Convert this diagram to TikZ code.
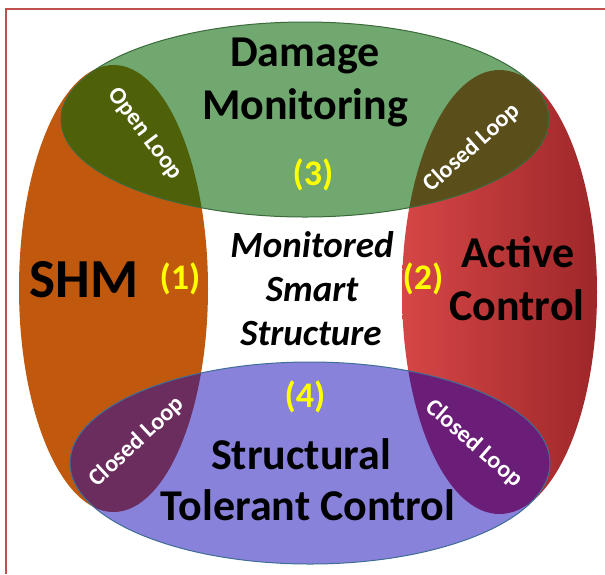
\documentclass[tikz,border=0pt]{standalone}
\usepackage{fontspec}
\setmainfont{Carlito}
\usepackage{tikz}
\definecolor{frame}{HTML}{C0504D}
\definecolor{shm}{HTML}{C0580E}
\definecolor{actL}{HTML}{D64646}
\definecolor{actR}{HTML}{9E2729}
\definecolor{dmon}{HTML}{70A870}
\definecolor{dmline}{HTML}{3C6A3C}
\definecolor{stc}{HTML}{8882DA}
\definecolor{stcline}{HTML}{3F6E96}
\definecolor{oliveL}{HTML}{4E6108}
\definecolor{oliveR}{HTML}{5A4E1A}
\definecolor{plumL}{HTML}{6B2D5E}
\definecolor{plumR}{HTML}{6A1E78}
\definecolor{numc}{HTML}{FFFF00}
\tikzset{
  frameline/.style={draw=frame, line width=2pt},
  setE/.style={line width=1pt},
  bigLab/.style={font=\bfseries\fontsize{44}{53}\selectfont, text=black, anchor=base, inner sep=0pt},
  midLab/.style={font=\bfseries\itshape\fontsize{37}{44}\selectfont, text=black, anchor=base, inner sep=0pt},
  numLab/.style={font=\bfseries\fontsize{36}{40}\selectfont, text=numc, inner sep=0pt},
  loopLab/.style={font=\bfseries\fontsize{24}{26}\selectfont, text=white, inner sep=0pt}
}

\begin{document}
\begin{tikzpicture}[x=1pt, y=-1pt]
  \useasboundingbox (0,0) rectangle (605,574);
  \fill[white] (0,0) rectangle (605,574);
  \draw[frameline] (6,574) -- (6,9) -- (605,9);

  % ellipse centres (pixel grid, y down)
  \coordinate (S) at (113.5,288.5);
  \coordinate (A) at (499.5,292);
  \coordinate (D) at (305,119.5);
  \coordinate (T) at (310,463);
  \def\eS{(S) ellipse [x radius=94.5pt, y radius=223.5pt]}
  \def\eA{(A) ellipse [x radius=97.5pt, y radius=222pt]}
  \def\eD{(D) ellipse [x radius=244pt, y radius=97.5pt]}
  \def\eT{(T) ellipse [x radius=240pt, y radius=101pt]}

  \fill[shm] \eS;
  \shade[left color=actL, right color=actR] \eA;
  \fill[dmon] \eD;
  \fill[stc] \eT;

  % overlaps
  \begin{scope}
    \clip \eD;
    \fill[oliveL] \eS;
    \fill[oliveR] \eA;
  \end{scope}
  \begin{scope}
    \clip \eT;
    \fill[plumL] \eS;
    \fill[plumR] \eA;
  \end{scope}

  \draw[setE, draw=dmline] \eD;
  \draw[setE, draw=stcline] \eT;

  % labels
  \node[bigLab] (dm1) at (305,66) {Damage};
  \node[bigLab] (dm2) at (305,119) {Monitoring};
  \node[bigLab, font=\bfseries\fontsize{55}{60}\selectfont] (shmL) at (84,297) {SHM};
  \node[bigLab] (ac1) at (518,267) {Active};
  \node[bigLab] (ac2) at (517,320) {Control};
  \node[bigLab] (st1) at (301,469) {Structural};
  \node[bigLab] (st2) at (308,520) {Tolerant Control};

  \node[midLab] (ms1) at (312,257) {Monitored};
  \node[midLab] (ms2) at (312,301) {Smart};
  \node[midLab] (ms3) at (311,345) {Structure};

  \node[numLab] (n1) at (180,279) {(1)};
  \node[numLab] (n2) at (423,279) {(2)};
  \node[numLab] (n3) at (313,175) {(3)};
  \node[numLab] (n4) at (305,397) {(4)};

  \node[loopLab, rotate=-53] (ol) at (145,134) {Open Loop};
  \node[loopLab, rotate=42] (cl1) at (472,148) {Closed Loop};
  \node[loopLab, rotate=43] (cl2) at (137,442) {Closed Loop};
  \node[loopLab, rotate=-41] (cl3) at (474,444) {Closed Loop};
\end{tikzpicture}
\end{document}
